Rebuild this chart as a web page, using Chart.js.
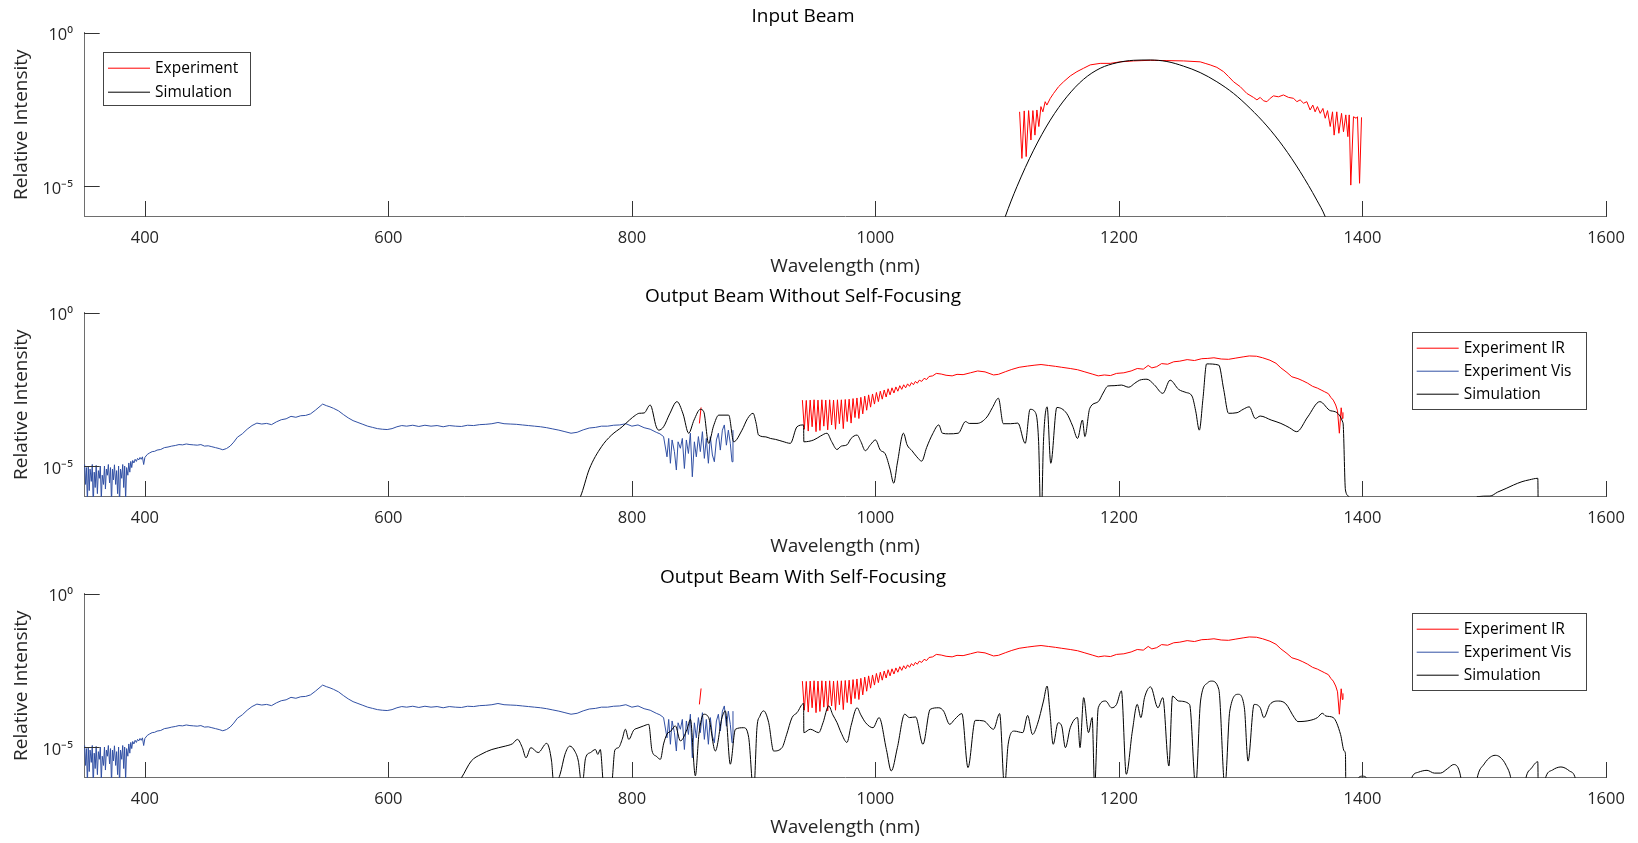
<!DOCTYPE html>
<html>
<head>
<meta charset="utf-8">
<script src="https://cdn.jsdelivr.net/npm/chart.js@4.4.1/dist/chart.umd.min.js"></script>
<style>
  html, body { margin: 0; padding: 0; background: #fff; }
  #wrap { position: relative; width: 1638px; height: 843px; }
  .panel { position: absolute; left: 0; width: 1638px; height: 281px; }
</style>
</head>
<body>
<div id="wrap">
  <div class="panel" style="top:0"><canvas id="c1" width="1638" height="281"></canvas></div>
  <div class="panel" style="top:280px"><canvas id="c2" width="1638" height="281"></canvas></div>
  <div class="panel" style="top:561px"><canvas id="c3" width="1638" height="281"></canvas></div>
</div>
<script>
// values are [wavelength nm, log10(relative intensity)]
const xTicks = [400, 600, 800, 1000, 1200, 1400, 1600];
const yTicks = [1e-5, 1];
const yTickText = { '0.00001': '10\u207B\u2075', '1': '10\u2070' };

const titles = ['Input Beam', 'Output Beam Without Self-Focusing', 'Output Beam With Self-Focusing'];

const inputExperiment = [[1118.4,-2.58],[1120.3,-4.10],[1122.2,-2.55],[1123.8,-4.04],[1125.8,-2.54],[1127.7,-3.50],[1129.3,-2.54],[1131.0,-3.34],[1132.6,-2.52],[1134.2,-3.06],[1135.9,-2.41],[1137.5,-2.58],[1139.4,-2.25],[1140.8,-2.36],[1143.6,-2.14],[1146.3,-1.98],[1150.4,-1.76],[1154.5,-1.60],[1160.0,-1.41],[1165.5,-1.27],[1170.9,-1.16],[1176.4,-1.05],[1184.6,-1.00],[1192.8,-1.00],[1201.0,-0.95],[1212.0,-0.92],[1225.7,-0.90],[1239.4,-0.91],[1253.0,-0.92],[1266.7,-0.95],[1270.8,-1.00],[1274.9,-1.05],[1280.4,-1.13],[1285.9,-1.27],[1290.0,-1.43],[1294.1,-1.60],[1299.6,-1.76],[1305.0,-1.98],[1310.5,-2.11],[1313.3,-2.19],[1316.0,-2.11],[1318.7,-2.22],[1321.5,-2.25],[1324.2,-2.14],[1326.9,-2.06],[1331.0,-2.09],[1335.1,-2.03],[1339.3,-2.11],[1343.4,-2.14],[1346.1,-2.25],[1348.8,-2.19],[1351.6,-2.30],[1354.3,-2.25],[1357.0,-2.52],[1359.2,-2.36],[1361.1,-2.58],[1363.0,-2.41],[1365.3,-2.63],[1367.5,-2.47],[1369.4,-2.79],[1371.3,-2.54],[1373.5,-3.06],[1375.4,-2.58],[1376.7,-3.34],[1378.9,-2.58],[1380.6,-3.28],[1382.8,-2.63],[1384.4,-3.23],[1386.3,-2.68],[1388.0,-3.39],[1389.1,-2.68],[1390.4,-4.97],[1392.6,-2.74],[1394.8,-2.79],[1395.9,-2.74],[1397.6,-4.91],[1399.2,-2.76]];

const inputSimulation = [[1100,-6.8],[1106.6,-6.0],[1116.2,-5.02],[1129.9,-3.83],[1143.6,-2.85],[1157.2,-2.09],[1170.9,-1.52],[1184.6,-1.16],[1198.3,-0.98],[1212.0,-0.90],[1225.7,-0.89],[1239.4,-0.94],[1253.0,-1.09],[1266.7,-1.30],[1280.4,-1.60],[1294.1,-1.98],[1307.8,-2.47],[1321.5,-3.04],[1335.1,-3.72],[1348.8,-4.53],[1362.5,-5.46],[1369.4,-6.0],[1376,-6.8]];

const experimentIR = [[855.4,-3.61],[856.8,-3.09],[900,null],
  [940.0,-2.85],[941.6,-3.80],[943.2,-2.86],[944.8,-3.86],[946.4,-2.85],[948.0,-3.72],[949.6,-2.84],[951.2,-3.88],[952.8,-2.85],[954.4,-3.84],[956.0,-2.84],[957.6,-3.70],[959.2,-2.85],[960.8,-3.82],[962.4,-2.84],[964.0,-3.66],[965.6,-2.85],[967.2,-3.80],[968.8,-2.84],[970.4,-3.62],[972.0,-2.84],[973.6,-3.78],[975.2,-2.83],[976.8,-3.55],[978.4,-2.82],[980.0,-3.60],[981.6,-2.80],[983.2,-3.42],[984.8,-2.78],[986.4,-3.45],[988.0,-2.76],[989.6,-3.30],[991.2,-2.72],[992.8,-3.18],[994.4,-2.68],[996.0,-3.08],[997.6,-2.65],[999.2,-2.98],[1000.8,-2.60],[1002.4,-2.90],[1004.0,-2.56],[1005.6,-2.82],[1007.2,-2.52],[1008.8,-2.75],[1010.4,-2.48],[1012.0,-2.68],[1013.6,-2.45],[1015.2,-2.62],[1016.8,-2.42],[1018.4,-2.56],[1020.0,-2.38],[1021.6,-2.50],[1023.2,-2.35],[1024.8,-2.45],[1026.4,-2.32],[1028.0,-2.40],[1029.6,-2.28],[1031.2,-2.35],[1032.8,-2.24],[1034.4,-2.30],[1036.0,-2.20],[1038.0,-2.24],[1040.0,-2.14],[1042.0,-2.18],[1044.0,-2.08],[1047.0,-2.06],
  [1050.0,-1.98],[1054.0,-2.00],[1058.0,-2.04],[1063.0,-2.06],[1067.0,-2.01],[1072.0,-2.02],[1078.0,-1.96],[1084.0,-1.90],[1090.0,-1.93],[1097.0,-2.03],[1101.0,-2.01],[1107.0,-1.92],[1112.0,-1.85],[1118.0,-1.78],[1125.0,-1.74],[1131.0,-1.71],[1136.0,-1.69],[1142.0,-1.72],[1148.0,-1.75],[1153.0,-1.78],[1160.0,-1.82],[1166.0,-1.86],[1172.0,-1.93],[1178.0,-2.00],[1183.0,-2.06],[1188.0,-2.03],[1193.0,-2.05],[1198.0,-1.98],[1204.0,-1.96],[1210.0,-1.90],[1215.0,-1.82],[1220.0,-1.84],[1224.0,-1.72],[1227.0,-1.80],[1231.0,-1.76],[1235.0,-1.66],[1240.0,-1.68],[1245.0,-1.60],[1250.0,-1.58],[1256.0,-1.53],[1262.0,-1.56],[1268.0,-1.50],[1273.0,-1.49],[1278.0,-1.47],[1284.0,-1.51],[1290.0,-1.52],[1296.0,-1.48],[1302.0,-1.44],[1307.0,-1.41],[1313.0,-1.42],[1318.0,-1.47],[1324.0,-1.55],[1329.0,-1.65],[1333.0,-1.80],[1338.0,-1.95],[1342.0,-2.09],[1347.0,-2.15],[1351.0,-2.22],[1355.0,-2.30],[1359.0,-2.40],[1363.0,-2.46],[1366.0,-2.52],[1369.0,-2.58],[1372.0,-2.64],[1374.0,-2.76],[1376.0,-2.85],[1378.0,-3.01],[1379.5,-3.20],[1381.0,-3.93],[1382.5,-3.10],[1383.5,-3.45],[1384.0,-3.25]];

const experimentVis = [[350.5,-4.95],[351.3,-5.6],[352.0,-5.05],[352.8,-6.2],[353.5,-5.0],[354.3,-5.8],[355.0,-5.1],[356.0,-5.5],[356.8,-4.95],[357.6,-6.3],[358.4,-5.2],[359.2,-5.7],[360.0,-4.98],[361.0,-5.9],[361.8,-5.15],[362.6,-5.4],[363.4,-5.0],[364.2,-6.1],[365.0,-5.3],[366.0,-5.6],[366.8,-5.0],[367.6,-5.75],[368.4,-5.1],[369.2,-5.3],[370.0,-4.95],[371.0,-5.55],[371.8,-5.05],[372.6,-6.2],[373.4,-5.1],[374.2,-5.45],[375.0,-4.96],[376.0,-5.6],[376.8,-5.15],[377.6,-5.9],[378.4,-5.0],[379.2,-6.3],[380.0,-5.1],[381.0,-5.4],[381.8,-4.95],[382.6,-5.7],[383.4,-5.0],[384.2,-6.1],[385.0,-5.05],[386.0,-5.3],[386.8,-4.9],[387.6,-5.2],[388.4,-4.85],[389.2,-5.05],[390.0,-4.82],[391.0,-4.9],[392.0,-4.78],[393.0,-4.85],[394.0,-4.75],[395.0,-4.8],[396.0,-4.72],[397.0,-4.78],[398.0,-4.7],[399.0,-4.95],[400.0,-4.72],
  [402.0,-4.62],[404.0,-4.57],[406.0,-4.53],[408.0,-4.52],[410.0,-4.48],[413.0,-4.46],[416.0,-4.40],[419.0,-4.38],[422.0,-4.35],[425.0,-4.33],[428.0,-4.30],[431.0,-4.31],[434.0,-4.28],[437.0,-4.30],[440.0,-4.31],[443.0,-4.32],[446.0,-4.30],[449.0,-4.35],[452.0,-4.34],[455.0,-4.37],[458.0,-4.40],[461.0,-4.43],[464.0,-4.47],[467.0,-4.43],[470.0,-4.35],[473.0,-4.22],[476.0,-4.06],[480.0,-3.95],[484.0,-3.80],[488.0,-3.68],[492.0,-3.60],[496.0,-3.63],[500.0,-3.61],[504.0,-3.65],[508.0,-3.56],[512.0,-3.49],[516.0,-3.46],[520.0,-3.38],[524.0,-3.41],[528.0,-3.36],[532.0,-3.35],[536.0,-3.30],[540.0,-3.18],[543.0,-3.08],[546.0,-2.98],[549.0,-3.03],[552.0,-3.07],[555.0,-3.12],[559.0,-3.20],[563.0,-3.32],[567.0,-3.43],[571.0,-3.52],[575.0,-3.58],[579.0,-3.64],[583.0,-3.70],[587.0,-3.74],[591.0,-3.78],[595.0,-3.80],[599.0,-3.81],[603.0,-3.78],[607.0,-3.72],[611.0,-3.68],[615.0,-3.70],[620.0,-3.67],[625.0,-3.71],[630.0,-3.67],[635.0,-3.70],[640.0,-3.68],[645.0,-3.72],[650.0,-3.68],[655.0,-3.70],[660.0,-3.71],[665.0,-3.67],[670.0,-3.68],[675.0,-3.65],[680.0,-3.64],[685.0,-3.62],[690.0,-3.58],[695.0,-3.62],[700.0,-3.63],[705.0,-3.64],[710.0,-3.66],[715.0,-3.68],[720.0,-3.70],[725.0,-3.72],[730.0,-3.75],[735.0,-3.79],[740.0,-3.83],[745.0,-3.88],[750.0,-3.93],[755.0,-3.90],[760.0,-3.82],[765.0,-3.76],[770.0,-3.74],[775.0,-3.70],[780.0,-3.70],[785.0,-3.67],[790.0,-3.66],[795.0,-3.62],[800.0,-3.70],[805.0,-3.66],[810.0,-3.75],[815.0,-3.80],[820.0,-3.90],[823.0,-3.95],[826.0,-4.04],
  [828.8,-4.7],[830.2,-4.10],[831.6,-4.91],[833.0,-4.15],[834.9,-4.53],[836.5,-5.13],[837.9,-4.21],[839.8,-4.42],[841.4,-4.10],[843.1,-5.08],[844.7,-4.15],[846.4,-4.59],[848.0,-3.93],[849.6,-5.35],[851.3,-4.21],[852.9,-4.70],[854.6,-4.04],[856.2,-4.53],[857.9,-3.88],[859.5,-4.75],[861.1,-4.10],[862.8,-4.91],[864.4,-4.04],[866.1,-4.64],[867.7,-4.86],[869.4,-4.15],[871.0,-3.93],[872.6,-4.48],[874.3,-3.83],[875.9,-3.66],[877.6,-4.32],[879.2,-3.83],[880.8,-4.26],[882.2,-4.86],[883.0,-3.83]];

const simulationNoSF = [[740,-7],[757.7,-6.0],[765,-5.1],[775,-4.37],[783,-4.0],[792,-3.72],[798,-3.50],[803,-3.34],[806,-3.28],[810,-3.27],[815,-3.01],[820,-3.72],[822,-3.83],[826,-3.72],[831,-3.3],[837,-2.90],[842,-3.3],[846.6,-3.93],[851,-3.5],[856.2,-3.15],[859,-3.23],[863,-4.26],[867,-3.7],[871.3,-3.34],[879.5,-3.34],[883.6,-4.21],[890.4,-3.83],[895,-3.45],[899.5,-3.28],[902,-3.6],[904,-3.99],[910,-4.05],[913.7,-4.10],[917.8,-4.13],[924,-4.2],[930.1,-4.26],[935.6,-3.72],[941,-3.66],[941.2,-4.21],[949.3,-4.15],[955,-4.02],[960.2,-3.93],[964,-4.2],[968.4,-4.46],[972,-4.35],[976.6,-4.31],[980,-4.1],[984.9,-3.99],[988,-4.2],[991.7,-4.50],[996,-4.3],[1000,-4.15],[1004,-4.48],[1008,-4.6],[1012,-5.1],[1015,-5.56],[1018,-4.9],[1023,-3.93],[1026,-4.31],[1030,-4.5],[1034,-4.7],[1038,-4.84],[1042,-4.4],[1047,-3.95],[1052,-3.66],[1055,-3.93],[1060,-3.95],[1068,-3.93],[1074,-3.55],[1077,-3.61],[1083.4,-3.61],[1091.6,-3.40],[1096,-3.1],[1101,-2.79],[1105,-3.62],[1111,-3.62],[1117,-3.60],[1123,-4.26],[1127,-3.15],[1131,-3.23],[1134,-4.2],[1136,-7],[1138,-4.2],[1141,-3.07],[1144,-4.91],[1149,-3.09],[1157,-3.28],[1162,-3.7],[1166,-4.10],[1170,-3.50],[1172,-4.04],[1176,-3.12],[1183,-2.90],[1187,-2.62],[1191,-2.39],[1196,-2.38],[1202,-2.36],[1208,-2.43],[1213,-2.30],[1217,-2.20],[1223,-2.17],[1229,-2.35],[1236,-2.63],[1242,-2.20],[1249,-2.50],[1255,-2.6],[1260,-2.72],[1263,-3.2],[1266,-3.83],[1269,-2.8],[1272,-1.67],[1282,-1.71],[1286,-2.5],[1290,-3.28],[1297,-3.26],[1302,-3.15],[1307,-3.07],[1312,-3.45],[1316,-3.37],[1325,-3.50],[1333,-3.61],[1340,-3.75],[1346,-3.88],[1355,-3.4],[1365,-2.90],[1374,-3.2],[1384,-3.59],[1386,-5.78],[1389,-6.0],[1395,-7],[1490,-7],[1494,-6.0],[1504.7,-5.98],[1511,-5.85],[1518,-5.73],[1524,-5.62],[1531,-5.51],[1537,-5.45],[1544,-5.40],[1544.5,-7],[1600,-7]];

const simulationSF = [[640,-7],[660,-6.0],[668,-5.46],[676,-5.24],[685,-5.08],[696,-4.97],[702,-4.89],[706,-4.75],[710,-5.02],[713,-5.35],[717,-5.02],[723,-5.18],[730,-4.88],[734,-5.46],[736,-6.3],[741,-5.89],[745,-5.24],[749,-4.97],[753,-5.13],[756,-5.46],[759,-6.3],[762,-5.35],[766,-5.18],[770,-5.08],[772,-5.24],[774,-5.08],[777,-6.3],[780,-6.3],[783,-6.3],[786,-5.1],[789,-5.02],[792,-4.75],[794.6,-4.42],[797.4,-4.75],[801.5,-4.45],[805,-4.38],[809.7,-4.31],[813.8,-4.26],[816.5,-5.12],[820,-5.3],[823.4,-5.4],[826,-4.9],[828.8,-4.58],[832,-4.48],[835.7,-4.31],[839.8,-4.80],[845.3,-4.42],[848,-4.1],[852.1,-5.94],[855,-4.6],[859,-3.93],[863,-4.04],[868.5,-5.13],[874,-4.04],[876.7,-3.82],[880.8,-5.56],[885,-4.42],[891.8,-4.37],[895.9,-4.69],[900,-6.5],[902.7,-4.37],[905,-4.0],[908.2,-3.82],[912.3,-4.2],[916.4,-5.13],[923.3,-5.02],[927,-4.6],[931.5,-4.04],[935.6,-3.88],[941,-3.58],[941.2,-4.53],[946.5,-4.42],[953.4,-4.53],[957,-4.2],[961.6,-3.66],[965,-3.95],[968.4,-4.2],[972,-4.55],[976.6,-4.85],[980,-4.3],[984.9,-3.72],[988,-3.95],[992,-4.21],[998,-4.37],[1003,-4.04],[1009,-5.08],[1013,-5.78],[1018,-5.02],[1024,-3.93],[1028,-4.04],[1033,-4.02],[1039,-4.91],[1045,-3.77],[1052,-3.72],[1056,-3.83],[1061,-4.26],[1065,-4.10],[1071,-3.91],[1076,-5.67],[1082,-4.13],[1089,-4.15],[1097,-4.42],[1102,-3.91],[1106,-6.3],[1109,-4.91],[1114,-4.48],[1121,-4.53],[1125,-3.97],[1129,-4.59],[1133,-4.26],[1138,-3.50],[1141,-3.01],[1143,-3.72],[1146,-4.91],[1150,-4.21],[1153,-4.32],[1156,-5.02],[1160,-4.37],[1166,-4.04],[1168,-5.02],[1171,-3.39],[1175,-4.53],[1178,-4.04],[1180,-6.3],[1183,-3.72],[1189,-3.50],[1194,-3.72],[1198,-3.61],[1202,-3.17],[1206,-5.89],[1211,-4.48],[1215,-3.61],[1218,-4.04],[1221,-3.39],[1226,-3.04],[1232,-3.72],[1236,-3.39],[1241,-5.62],[1244,-3.34],[1249,-3.50],[1258,-3.61],[1263,-6.3],[1267,-3.50],[1273,-2.90],[1276,-2.85],[1282,-3.12],[1287,-6.3],[1291,-3.83],[1298,-3.28],[1303,-3.72],[1306,-5.46],[1311,-3.61],[1316,-3.72],[1319,-4.04],[1324,-3.61],[1331,-3.50],[1337,-3.59],[1344,-4.04],[1347,-4.17],[1357,-4.13],[1363,-4.04],[1367,-3.90],[1370,-3.99],[1376,-4.04],[1382,-4.59],[1385,-5.13],[1386,-5.22],[1386.5,-7],[1393,-7],[1396,-6.05],[1400,-5.95],[1404,-6.05],[1407,-7],[1437,-7],[1440,-6.05],[1446,-5.82],[1453,-5.76],[1459,-5.85],[1464,-5.85],[1470,-5.7],[1475,-5.57],[1479,-5.72],[1481,-6.05],[1484,-7],[1491,-7],[1494,-6.05],[1500,-5.55],[1505,-5.33],[1509,-5.27],[1513,-5.33],[1518,-5.6],[1522,-6.05],[1525,-7],[1531,-7],[1534,-6.05],[1539,-5.68],[1544,-5.48],[1544.5,-7],[1547,-7],[1550,-6.05],[1556,-5.75],[1563,-5.65],[1570,-5.78],[1575,-6.05],[1578,-7],[1600,-7]];

const RED = 'rgb(255,0,0)';
const BLUE = 'rgb(49,80,164)';
const BLACK = 'rgb(0,0,0)';
const TEXT = '#262626';

Chart.defaults.font.family = "'Open Sans', sans-serif";
Chart.defaults.color = TEXT;
Chart.defaults.animation = false;

function toPoints(pairs) {
  return pairs.map(p => ({ x: p[0], y: p[1] === null ? null : Math.pow(10, p[1]) }));
}

function line(label, pairs, color, smooth, order) {
  return {
    label: label,
    data: toPoints(pairs),
    borderColor: color,
    backgroundColor: color,
    borderWidth: 1,
    pointRadius: 0,
    fill: false,
    spanGaps: false,
    cubicInterpolationMode: smooth ? 'monotone' : 'default',
    tension: smooth ? 0.4 : 0,
    order: order
  };
}

// legend with a border, placed inside the axes
const boxLegend = {
  id: 'boxLegend',
  afterDraw(chart, args, opts) {
    const ctx = chart.ctx;
    const b = opts.box;
    ctx.save();
    ctx.fillStyle = '#fff';
    ctx.fillRect(b.x, b.y, b.w, b.h);
    ctx.strokeStyle = '#444';
    ctx.lineWidth = 1;
    ctx.strokeRect(Math.round(b.x) + 0.5, Math.round(b.y) + 0.5, Math.round(b.w), Math.round(b.h));
    ctx.font = "15.5px 'Open Sans', sans-serif";
    ctx.textBaseline = 'middle';
    chart.data.datasets.forEach((ds, i) => {
      const y = b.y + 16.5 + i * opts.gap;
      ctx.strokeStyle = ds.borderColor;
      ctx.beginPath();
      ctx.moveTo(b.x + 5, y);
      ctx.lineTo(b.x + 47, y);
      ctx.stroke();
      ctx.fillStyle = '#000';
      ctx.fillText(ds.label, b.x + 52, y);
    });
    ctx.restore();
  }
};

// tick marks pointing into the axes
const innerTicks = {
  id: 'innerTicks',
  afterDatasetsDraw(chart) {
    const { ctx, chartArea, scales } = chart;
    ctx.save();
    ctx.strokeStyle = '#333';
    ctx.lineWidth = 1;
    ctx.beginPath();
    scales.x.ticks.forEach(t => {
      const px = Math.round(scales.x.getPixelForValue(t.value)) + 0.5;
      ctx.moveTo(px, chartArea.bottom);
      ctx.lineTo(px, chartArea.bottom - 15.7);
    });
    scales.y.ticks.forEach(t => {
      const py = Math.round(scales.y.getPixelForValue(t.value)) + 0.5;
      ctx.moveTo(chartArea.left, py);
      ctx.lineTo(chartArea.left + 15.7, py);
    });
    ctx.stroke();
    ctx.restore();
  }
};

function makeChart(id, title, datasets, legendBox, gap) {
  return new Chart(document.getElementById(id), {
    type: 'line',
    data: { datasets: datasets },
    options: {
      responsive: false,
      layout: { padding: { top: 0, right: 32, left: 0, bottom: 0 } },
      plugins: {
        legend: { display: false },
        tooltip: { enabled: false },
        title: {
          display: true,
          text: title,
          color: '#000',
          font: { size: 19, weight: 'normal' },
          padding: { top: 5.6, bottom: 4.3 }
        },
        boxLegend: { box: legendBox, gap: gap }
      },
      scales: {
        x: {
          type: 'linear',
          min: 350,
          max: 1600,
          grid: { display: false, drawTicks: false, tickLength: 0 },
          border: { display: true, color: '#6e6e6e', width: 1 },
          ticks: { padding: 12, font: { size: 16.5 }, color: TEXT, maxRotation: 0, callback: v => String(v) },
          afterBuildTicks: s => { s.ticks = xTicks.map(v => ({ value: v })); },
          afterFit: s => { s.height = 64.3; },
          title: { display: true, text: 'Wavelength (nm)', font: { size: 19 }, color: TEXT, padding: { top: 0, bottom: 2.6 } }
        },
        y: {
          type: 'logarithmic',
          min: 1e-6,
          max: 1,
          grid: { display: false, drawTicks: false, tickLength: 0 },
          border: { display: true, color: '#6e6e6e', width: 1 },
          ticks: {
            padding: 11,
            labelOffset: 3,
            font: { size: 16.5 },
            color: TEXT,
            callback: v => yTickText[String(v)] || ''
          },
          afterBuildTicks: s => { s.ticks = yTicks.map(v => ({ value: v })); },
          afterFit: s => { s.width = 84; },
          title: { display: true, text: 'Relative Intensity', font: { size: 19 }, color: TEXT, padding: { top: 10.6, bottom: 0 } }
        }
      }
    },
    plugins: [innerTicks, boxLegend]
  });
}

makeChart('c1', titles[0], [
  line('Experiment', inputExperiment, RED, false, 2),
  line('Simulation', inputSimulation, BLACK, true, 1)
], { x: 103, y: 51.7, w: 146.5, h: 53.3 }, 24);

makeChart('c2', titles[1], [
  line('Experiment IR', experimentIR, RED, false, 3),
  line('Experiment Vis', experimentVis, BLUE, false, 2),
  line('Simulation', simulationNoSF, BLACK, true, 1)
], { x: 1411.7, y: 51.7, w: 174, h: 77.3 }, 23);

makeChart('c3', titles[2], [
  line('Experiment IR', experimentIR, RED, false, 3),
  line('Experiment Vis', experimentVis, BLUE, false, 2),
  line('Simulation', simulationSF, BLACK, true, 1)
], { x: 1411.7, y: 51.7, w: 174, h: 77.3 }, 23);
</script>
</body>
</html>
